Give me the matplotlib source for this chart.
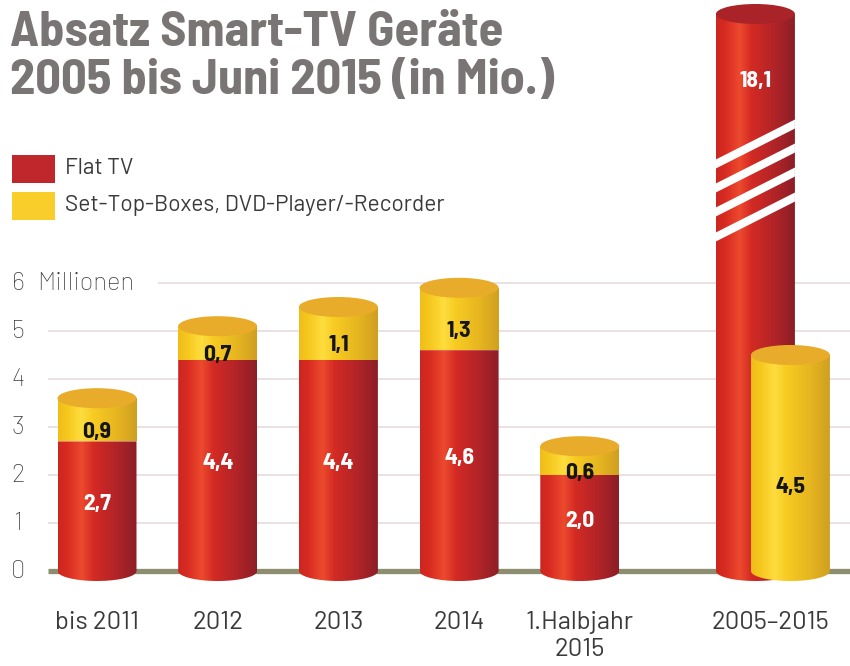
import numpy as np
import matplotlib
matplotlib.use('Agg')
import matplotlib.pyplot as plt
from matplotlib.patches import Ellipse, PathPatch, Rectangle
from matplotlib.path import Path
from matplotlib.colors import LinearSegmentedColormap

# ---------------- data ----------------
categories = ['bis 2011', '2012', '2013', '2014', '1.Halbjahr\n2015']
flat_tv = [2.7, 4.4, 4.4, 4.6, 2.0]
stb_dvd = [0.9, 0.7, 1.1, 1.3, 0.6]
total_category = '2005–2015'
total_flat_tv = 18.1
total_stb_dvd = 4.5
y_ticks = [0, 1, 2, 3, 4, 5, 6]
title_lines = ['Absatz Smart-TV Geräte', '2005 bis Juni 2015 (in Mio.)']
legend_labels = ['Flat TV', 'Set-Top-Boxes, DVD-Player/-Recorder']

def fmt(v):
    return f'{v:.1f}'.replace('.', ',')

# ---------------- layout ----------------
W, H = 850, 666
fig = plt.figure(figsize=(W / 100, H / 100), dpi=100)
fig.patch.set_facecolor('white')
ax = fig.add_axes([0, 0, 1, 1])
ax.axis('off')
renderer = fig.canvas.get_renderer()

PX_X0, PX_DX, PX_Y0, PX_DY = 97, 120.7, 571, 48.0
XLIM = (-PX_X0 / PX_DX, (W - PX_X0) / PX_DX)
YLIM = ((PX_Y0 - H) / PX_DY, PX_Y0 / PX_DY)

def px2x(p):
    return (p - PX_X0) / PX_DX

def py2y(p):
    return (PX_Y0 - p) / PX_DY

def width_of(t):
    return t.get_window_extent(renderer=renderer).width

BW = 79 / PX_DX          # bar width in data units
EH = 20 / PX_DY          # ellipse height in data units

TITLE_FONT = ['Barlow Semi Condensed', 'Roboto Condensed', 'DejaVu Sans']
FONT = ['Barlow', 'Roboto Condensed', 'DejaVu Sans']

red_cmap = LinearSegmentedColormap.from_list('red', [
    (0.0, '#cc2620'), (0.12, '#d82b22'), (0.30, '#ec4a2e'), (0.45, '#d42a24'),
    (0.75, '#b02428'), (1.0, '#8c1e27')])
yel_cmap = LinearSegmentedColormap.from_list('yel', [
    (0.0, '#efbd18'), (0.12, '#f6c81e'), (0.30, '#fedd3e'), (0.45, '#f7cb22'),
    (0.75, '#e6b520'), (1.0, '#cf9f22')])
RED_TOP = '#a92329'
YEL_TOP = '#e8ac2a'
TXT = '#3a3a3a'

def body(cx, y0, y1, cmap, curved_bottom, z):
    x0, x1 = cx - BW / 2, cx + BW / 2
    verts = [(x0, y1), (x0, y0)]
    if curved_bottom:
        t = np.linspace(np.pi, 2 * np.pi, 60)
        verts += [(cx + BW / 2 * np.cos(tt), y0 + EH / 2 * np.sin(tt)) for tt in t]
    else:
        verts.append((x1, y0))
    verts += [(x1, y1), (x0, y1)]
    codes = [Path.MOVETO] + [Path.LINETO] * (len(verts) - 2) + [Path.CLOSEPOLY]
    patch = PathPatch(Path(verts, codes), facecolor='none', edgecolor='none', zorder=z)
    ax.add_patch(patch)
    grad = np.linspace(0, 1, 256).reshape(1, -1)
    im = ax.imshow(grad, cmap=cmap, extent=[x0, x1, y0 - EH / 2, y1],
                   aspect='auto', zorder=z, interpolation='bilinear')
    im.set_clip_path(patch)
    return patch

def top(cx, y, color, z):
    ax.add_patch(Ellipse((cx, y), BW, EH, facecolor=color, edgecolor='none', zorder=z))

# ---------------- title ----------------
t1 = fig.text(10 / W, 1 - 46 / H, title_lines[0], ha='left', va='baseline', fontsize=32,
              fontweight='bold', color='#797574', family=TITLE_FONT)
t2 = fig.text(10 / W, 1 - 94 / H, title_lines[1], ha='left', va='baseline', fontsize=32,
              fontweight='bold', color='#797574', family=TITLE_FONT)
s1 = 32 * 442 / width_of(t1)
s2 = 32 * 602 / width_of(t2)
ts = min(max((s1 + s2) / 2, 28), 40)
t1.set_fontsize(ts)
t2.set_fontsize(ts)

# ---------------- legend ----------------
leg_texts = []
for k, (lab, col) in enumerate(zip(legend_labels, ['#c0272d', '#f9ce2a'])):
    ytop = 155 + k * 37
    fig.add_artist(Rectangle((12 / W, 1 - (ytop + 28) / H), 43 / W, 28 / H,
                             transform=fig.transFigure, facecolor=col, edgecolor='none'))
    leg_texts.append(fig.text(65 / W, 1 - (ytop + 14) / H, lab, ha='left', va='center',
                              fontsize=16, color=TXT, family=FONT))
ls = min(max(16 * 380 / width_of(leg_texts[1]), 13), 19)
for t in leg_texts:
    t.set_fontsize(ls)
LS = ls * 1.13

# ---------------- grid ----------------
ax.hlines(y_ticks[1:-1], px2x(48), XLIM[1], color='#e4d9db', lw=1.1, zorder=1)
ax.hlines([y_ticks[-1]], px2x(158), XLIM[1], color='#e4d9db', lw=1.1, zorder=1)
ax.hlines([0], px2x(48), XLIM[1], color='#8d8e6f', lw=3.8, zorder=1.5)

for t in y_ticks:
    ax.text(px2x(18), t, str(t), ha='center', va='center', fontsize=LS,
            color=TXT, family=FONT, fontweight='light')
ax.text(px2x(37), y_ticks[-1], 'Millionen', ha='left', va='center', fontsize=LS,
        color=TXT, family=FONT, fontweight='light')

# ---------------- stacked cylinders ----------------
xpos = np.arange(len(categories))
for i, (r, s) in enumerate(zip(flat_tv, stb_dvd)):
    cx = xpos[i]
    z = 3 + i
    body(cx, 0, r, red_cmap, True, z)
    body(cx, r, r + s, yel_cmap, False, z + 0.1)
    top(cx, r + s, YEL_TOP, z + 0.2)
    ax.text(cx, r / 2 + 0.05, fmt(r), ha='center', va='center', fontsize=17,
            fontweight='bold', color='white', family=TITLE_FONT, zorder=z + 0.3)
    ax.text(cx, r + s / 2 - 0.25, fmt(s), ha='center', va='center', fontsize=17,
            fontweight='bold', color='#151515', family=TITLE_FONT, zorder=z + 0.3)

# ---------------- totals (broken red bar) ----------------
gx = 5.6
rx, yx = gx - 0.145, gx + 0.145
BREAK_TOP = py2y(14)
p = body(rx, 0, BREAK_TOP, red_cmap, True, 10)
top(rx, BREAK_TOP, RED_TOP, 10.2)
for yl in [165, 189, 213, 238]:
    ln, = ax.plot([rx - BW / 2 - 0.05, rx + BW / 2 + 0.05],
                  [py2y(yl + 2), py2y(yl - 44)], color='white', lw=5.8,
                  solid_capstyle='butt', zorder=10.1)
    ln.set_clip_path(p)
ax.text(rx, BREAK_TOP - 1.4, fmt(total_flat_tv), ha='center', va='center', fontsize=17,
        fontweight='bold', color='white', family=TITLE_FONT, zorder=10.3)

body(yx, 0, total_stb_dvd, yel_cmap, True, 11)
top(yx, total_stb_dvd, YEL_TOP, 11.2)
ax.text(yx, total_stb_dvd / 2 - 0.5, fmt(total_stb_dvd), ha='center', va='center',
        fontsize=17, fontweight='bold', color='#151515', family=TITLE_FONT, zorder=11.3)

# ---------------- category labels ----------------
for i, c in enumerate(categories):
    ax.text(xpos[i], py2y(611), c, ha='center', va='top', fontsize=LS,
            color=TXT, family=FONT, linespacing=1.2)
ax.text(gx - 0.02, py2y(611), total_category, ha='center', va='top', fontsize=LS,
        color=TXT, family=FONT)

ax.set_xlim(*XLIM)
ax.set_ylim(*YLIM)
fig.savefig('out.png', dpi=100, facecolor='white')
